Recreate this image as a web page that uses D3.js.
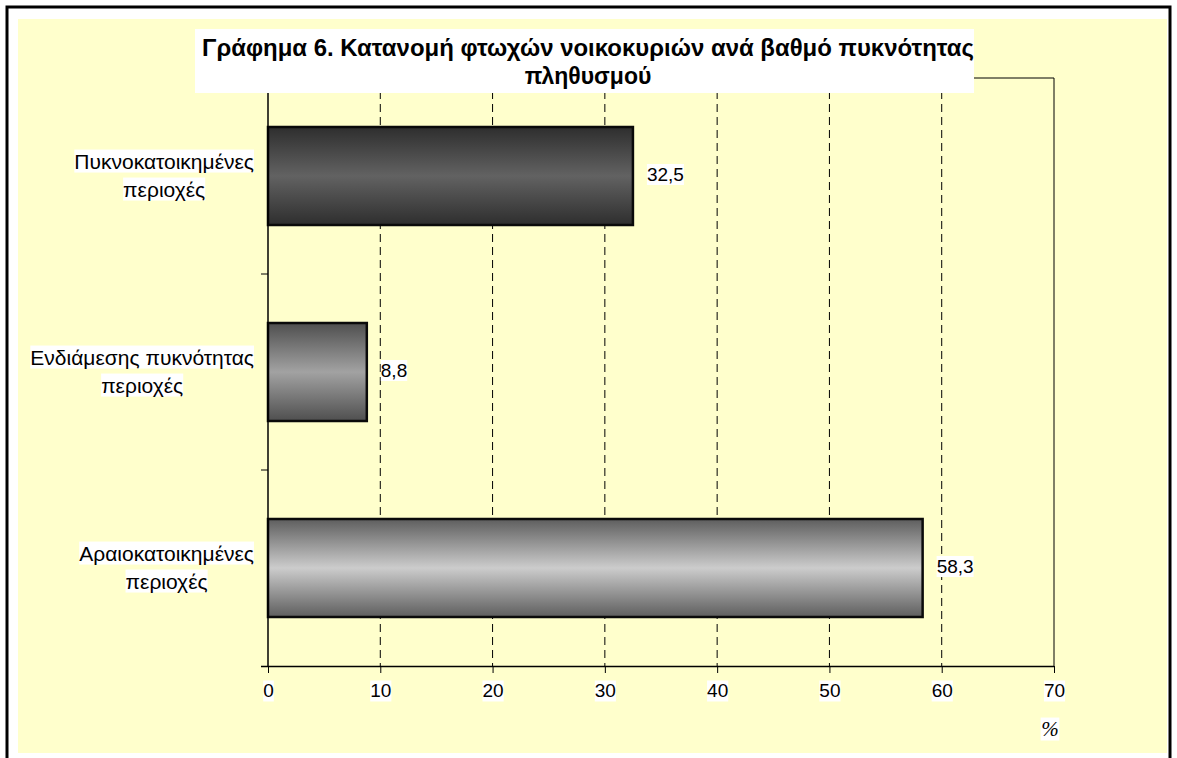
<!DOCTYPE html>
<html>
<head>
<meta charset="utf-8">
<script src="https://cdn.jsdelivr.net/npm/d3@7"></script>
<style>
  body { margin: 0; background: #fff; }
  svg { display: block; font-family: "Liberation Sans", Arial, sans-serif; }
</style>
</head>
<body>
<svg id="chart" width="1177" height="758"></svg>
<script>
// data
const categories = [
  ["Πυκνοκατοικημένες", "περιοχές"],
  ["Ενδιάμεσης πυκνότητας", "περιοχές"],
  ["Αραιοκατοικημένες", "περιοχές"]
];
const values = [32.5, 8.8, 58.3];
const valueLabels = ["32,5", "8,8", "58,3"];
const xTicks = [0, 10, 20, 30, 40, 50, 60, 70];
const titleLines = ["Γράφημα 6. Κατανομή φτωχών νοικοκυριών ανά βαθμό πυκνότητας", "πληθυσμού"];
// gradient colours per bar: [edge, middle]
const barShades = [["#2e2e2e", "#626262"], ["#4f4f4f", "#a2a2a2"], ["#5e5e5e", "#cccccc"]];

const svg = d3.select("#chart");

// frame
svg.append("rect").attr("x", 7).attr("y", 7).attr("width", 1163).attr("height", 760)
   .attr("fill", "#fff").attr("stroke", "#000").attr("stroke-width", 3);
svg.append("rect").attr("x", 18).attr("y", 19).attr("width", 1149).attr("height", 734)
   .attr("fill", "#ffffcc");

const plot = { left: 268, right: 1054, top: 78, bottom: 666 };

const x = d3.scaleLinear().domain([0, 70]).range([plot.left, plot.right]);
const y = d3.scaleBand().domain(d3.range(categories.length))
  .range([plot.top, plot.bottom]).paddingInner(0.5).paddingOuter(0.25);

const defs = svg.append("defs");
barShades.forEach((s, i) => {
  const g = defs.append("linearGradient").attr("id", "grad" + i)
    .attr("x1", 0).attr("y1", 0).attr("x2", 0).attr("y2", 1);
  g.append("stop").attr("offset", "0%").attr("stop-color", s[0]);
  g.append("stop").attr("offset", "50%").attr("stop-color", s[1]);
  g.append("stop").attr("offset", "100%").attr("stop-color", s[0]);
});

// dashed grid
svg.append("g")
  .selectAll("line")
  .data(xTicks.slice(1, -1))
  .join("line")
  .attr("x1", d => x(d)).attr("x2", d => x(d))
  .attr("y1", plot.top).attr("y2", plot.bottom)
  .attr("stroke", "#000").attr("stroke-width", 1)
  .attr("stroke-dasharray", "8,5");

// plot border top/right
svg.append("path")
  .attr("d", `M${plot.left},${plot.top}H${plot.right}V${plot.bottom}`)
  .attr("fill", "none").attr("stroke", "#000").attr("stroke-width", 1);

// bars
svg.append("g")
  .selectAll("rect")
  .data(values)
  .join("rect")
  .attr("x", x(0))
  .attr("y", (d, i) => y(i))
  .attr("width", d => x(d) - x(0))
  .attr("height", y.bandwidth())
  .attr("fill", (d, i) => `url(#grad${i})`)
  .attr("stroke", "#0a0a0a").attr("stroke-width", 2.5);

// x axis
const xAxis = svg.append("g")
  .attr("transform", `translate(0,${plot.bottom})`)
  .call(d3.axisBottom(x).tickValues(xTicks).tickSize(7).tickPadding(11).tickFormat(d3.format("d")));
xAxis.select(".domain").attr("d", `M${plot.left - 7},0.5H${plot.right}`).attr("stroke-width", 1.5);
xAxis.selectAll("text").attr("font-size", 19).attr("fill", "#000")
  .attr("font-family", "Liberation Sans, Arial, sans-serif");

// y axis (category separators as ticks)
const yAxisG = svg.append("g").attr("transform", `translate(${plot.left},0)`);
yAxisG.append("line").attr("x1", 0).attr("x2", 0).attr("y1", plot.top).attr("y2", plot.bottom)
  .attr("stroke", "#000").attr("stroke-width", 1.5);
const sepY = d3.range(1, categories.length).map(i => y(i) - y.step() * y.paddingInner() / 2);
yAxisG.selectAll(".sep").data(sepY).join("line")
  .attr("x1", -7).attr("x2", 0).attr("y1", d => d).attr("y2", d => d)
  .attr("stroke", "#000");

// helper: text with white background
function boxedText(g, tx, ty, str, anchor, size, weight) {
  const t = g.append("text").attr("x", tx).attr("y", ty)
    .attr("text-anchor", anchor).attr("font-size", size)
    .attr("font-weight", weight || "normal").attr("dominant-baseline", "middle").text(str);
  const b = t.node().getBBox();
  g.insert("rect", "text").attr("x", b.x).attr("y", b.y).attr("width", b.width).attr("height", b.height)
    .attr("fill", "#fff");
  return t;
}

// category labels: right-aligned block, lines centred
const catG = svg.append("g");
categories.forEach((lines, i) => {
  const cy = y(i) + y.bandwidth() / 2;
  const g = catG.append("g");
  const tmp = g.append("text").attr("font-size", 21).text(lines.reduce((a, b) => a.length > b.length ? a : b));
  const w = tmp.node().getComputedTextLength();
  tmp.remove();
  const cx = 254 - w / 2;
  lines.forEach((ln, j) => boxedText(g, cx, cy - 13 + j * 28, ln, "middle", 21));
});

// value labels
const valG = svg.append("g");
values.forEach((v, i) => {
  const g = valG.append("g");
  boxedText(g, x(v) + 14, y(i) + y.bandwidth() / 2, valueLabels[i], "start", 19);
});

// tick label backgrounds
xAxis.selectAll(".tick").each(function () {
  const t = d3.select(this).select("text");
  const b = t.node().getBBox();
  d3.select(this).insert("rect", "text").attr("x", b.x).attr("y", b.y)
    .attr("width", b.width).attr("height", b.height).attr("fill", "#fff");
});

// % unit
const pg = svg.append("g");
boxedText(pg, 1050, 731, "%", "middle", 21).attr("font-style", "italic")
  .attr("font-family", "Liberation Serif, Times New Roman, serif");

// title box
svg.append("rect").attr("x", 195).attr("y", 29).attr("width", 779).attr("height", 64).attr("fill", "#fff");
svg.append("text").attr("x", 588).attr("y", 56).attr("text-anchor", "middle")
  .attr("font-size", 23).attr("font-weight", "bold").attr("textLength", 772)
  .attr("lengthAdjust", "spacingAndGlyphs").text(titleLines[0]);
svg.append("text").attr("x", 588).attr("y", 84).attr("text-anchor", "middle")
  .attr("font-size", 23).attr("font-weight", "bold").text(titleLines[1]);
</script>
</body>
</html>
